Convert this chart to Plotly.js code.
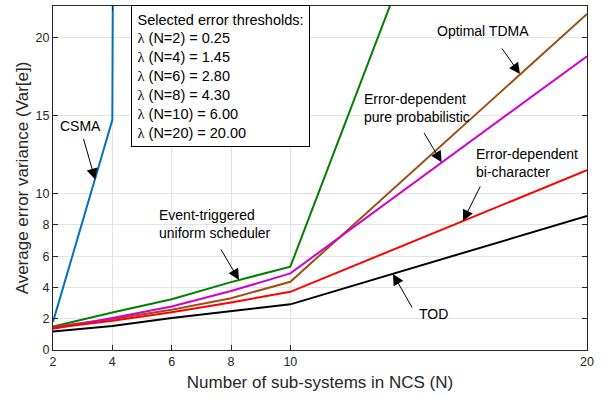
<!DOCTYPE html>
<html>
<head>
<meta charset="utf-8">
<script src="https://cdn.plot.ly/plotly-3.0.1.min.js"></script>
<style>html,body{margin:0;padding:0;background:#fff;}#chart{width:605px;height:396px;}</style>
</head>
<body>
<div id="chart"></div>
<script>
// Number of sub-systems
const N = [2, 4, 6, 8, 10, 20];
const N_csma = [2, 4, 6];

// Average error variance per scheduler
const csma = [1.8, 14.7, 1000];
const eventTriggered = [1.5, 2.4, 3.25, 4.34, 5.33, 55];
const pureProb = [1.36, 2.04, 2.78, 3.77, 4.9, 18.79];
const optimalTDMA = [1.49, 1.98, 2.57, 3.31, 4.36, 21.49];
const biCharacter = [1.4, 1.87, 2.42, 3.04, 3.72, 11.5];
const tod = [1.19, 1.53, 2.04, 2.46, 2.92, 8.57];

// Tick labels
const xTicks = [2, 4, 6, 8, 10, 20];
const yTicks = [0, 2, 4, 6, 8, 10, 15, 20, 22];

// Threshold box lines
const thresholdN = [2, 4, 6, 8, 10, 20];
const thresholdLambda = ['0.25', '1.45', '2.80', '4.30', '6.00', '20.00'];

const FONT = 'Liberation Sans, Arial, Helvetica, sans-serif';
const lam = '<span style="font-family:\'Liberation Serif\', serif">λ</span>';

function tr(x, y, color) {
  return {x: x, y: y, type: 'scatter', mode: 'lines', line: {color: color, width: 2}, hoverinfo: 'none', showlegend: false, cliponaxis: true};
}

const data = [
  tr(N_csma, csma, '#0072BD'),
  tr(N, eventTriggered, '#008000'),
  tr(N, optimalTDMA, '#a04e12'),
  tr(N, pureProb, '#d000d0'),
  tr(N, biCharacter, '#ff0000'),
  tr(N, tod, '#000000')
];

const boxText = ['Selected error thresholds:']
  .concat(thresholdN.map((n, i) => lam + ' (N=' + n + ') = ' + thresholdLambda[i]))
  .join('<br>');

function label(text, x, y, xanchor, align) {
  return {text: text, x: x, y: y, xref: 'x', yref: 'y', showarrow: false,
    xanchor: xanchor, yanchor: 'middle', align: align,
    font: {family: FONT, size: 14, color: '#000'}};
}
function arrow(x, y, ax, ay) {
  return {text: '', x: x, y: y, xref: 'x', yref: 'y', ax: ax, ay: ay,
    showarrow: true, arrowhead: 2, arrowsize: 2.2, arrowwidth: 1, arrowcolor: '#000',
    standoff: 0, startstandoff: 0};
}

const annotations = [
  {text: boxText, xref: 'paper', yref: 'paper', x: 0.1461, y: 1.002, xanchor: 'left', yanchor: 'top',
   align: 'left', showarrow: false, bordercolor: '#000', borderwidth: 1, borderpad: 5.5,
   bgcolor: '#fff', font: {family: FONT, size: 14.5, color: '#000'}},
  label('CSMA', 2.91, 14.32, 'center', 'center'),
  arrow(3.42, 10.9, -12, -42),
  label('Optimal TDMA', 16.49, 20.4, 'center', 'center'),
  arrow(17.74, 17.65, -19, -27),
  label('Error-dependent<br>pure probabilistic', 12.42, 15.5, 'left', 'left'),
  arrow(15.1, 12.0, -18.5, -31),
  label('Error-dependent<br>bi-character', 16.19, 11.96, 'left', 'left'),
  arrow(15.82, 8.25, 18, -36),
  label('Event-triggered<br>uniform scheduler', 5.5, 8.07, 'left', 'left'),
  arrow(8.27, 4.48, -19, -32),
  label('TOD', 14.81, 2.32, 'center', 'center'),
  arrow(13.46, 4.86, 20, 35)
];

const axisCommon = {
  showline: true, linecolor: '#262626', linewidth: 1, mirror: 'allticks',
  ticks: 'inside', ticklen: 5, tickcolor: '#262626', tickwidth: 1,
  showgrid: true, gridcolor: '#e3e3e3', gridwidth: 1, zeroline: false,
  tickfont: {family: FONT, size: 12.5, color: '#262626'}, fixedrange: true
};

const layout = {
  width: 605, height: 396,
  margin: {l: 53, r: 18, t: 6, b: 46},
  paper_bgcolor: '#fff', plot_bgcolor: '#fff',
  showlegend: false,
  xaxis: Object.assign({}, axisCommon, {
    range: [2, 20], tickmode: 'array', tickvals: xTicks, ticktext: xTicks.map(String),
    title: {text: 'Number of sub-systems in NCS (N)', font: {family: FONT, size: 17, color: '#262626'}, standoff: 8}
  }),
  yaxis: Object.assign({}, axisCommon, {
    range: [0, 22], tickmode: 'array', tickvals: yTicks, ticktext: yTicks.map(String),
    title: {text: 'Average error variance (Var[e])', font: {family: FONT, size: 17, color: '#262626'}, standoff: 2}
  }),
  annotations: annotations
};

Plotly.newPlot('chart', data, layout, {displayModeBar: false, staticPlot: true});
</script>
</body>
</html>
